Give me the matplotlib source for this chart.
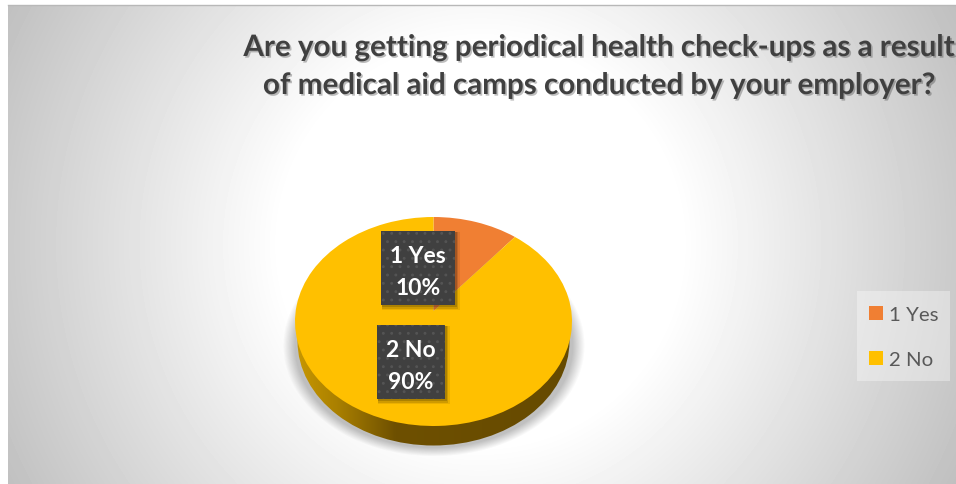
import matplotlib
matplotlib.use('Agg')
import matplotlib.pyplot as plt
import matplotlib.patheffects as pe
from matplotlib.colors import LinearSegmentedColormap
from matplotlib.patches import Ellipse, Rectangle
from matplotlib.path import Path
import numpy as np

plt.rcParams['font.family'] = ['Lato', 'DejaVu Sans']
plt.rcParams['hatch.linewidth'] = 0.9

# Survey answers
categories = ['1 Yes', '2 No']
values = [10, 90]
slice_colors = ['#F07F33', '#FFC000']
title_lines = ['Are you getting periodical health check-ups as a result',
               'of medical aid camps conducted by your employer?']

W, H = 956, 485
fig = plt.figure(figsize=(W / 100, H / 100), dpi=100, facecolor='white')

# Background layer, in pixel coordinates
bg = fig.add_axes([0, 0, 1, 1], zorder=0)
bg.set_xlim(0, W)
bg.set_ylim(H, 0)
bg.axis('off')

# Radial grey to white panel
xx, yy = np.meshgrid(np.arange(8, W), np.arange(6, H))
dist = np.hypot(xx - 480, yy - 245)
shade = 255 - 63 * np.clip((dist - 200) / 330, 0, 1)
bg.imshow(shade, cmap='gray', vmin=0, vmax=255, extent=(8, W, H, 6),
          aspect='auto', zorder=1)
bg.plot([8, W], [5.5, 5.5], color='#b8b8b8', lw=1, zorder=2)

# Soft shadow under the pie
sx, sy = np.meshgrid(np.arange(270, 600), np.arange(230, 470))
rho = np.hypot((sx - 433.5) / 151, (sy - 346) / 111)
alpha = 0.42 * np.clip((1 - rho) / 0.08, 0, 1)
shadow = np.zeros(alpha.shape + (4,))
shadow[..., :3] = 0.42
shadow[..., 3] = alpha
bg.imshow(shadow, extent=(270, 600, 470, 230), aspect='auto', zorder=3)

# Pie rim: dark gold gradient clipped to the lower ellipse
rim_cmap = LinearSegmentedColormap.from_list(
    'rim', [(0, '#C79700'), (0.15, '#A97F00'), (0.36, '#6E5000'), (1, '#664A00')])
rim = bg.imshow(np.linspace(0, 1, 256)[None, :], cmap=rim_cmap,
                extent=(297, 570, 447, 318), aspect='auto', zorder=4)
rim_clip = Ellipse((433.5, 342), 272, 209, transform=bg.transData)
rim.set_clip_path(rim_clip)
bg.set_xlim(0, W)
bg.set_ylim(H, 0)

# Pie top face
ax = fig.add_axes([295 / W, 1 - 427 / H, 277 / W, 209 / H], zorder=1)
wedges, _ = ax.pie(values, colors=slice_colors, startangle=90, counterclock=False,
                   radius=1, wedgeprops={'linewidth': 0})
ax.set_aspect('auto')
ax.set_xlim(-1, 1)
ax.set_ylim(-1, 1)
# The tilted view puts the slice apex a little above the ellipse centre
for w in wedges:
    path = w.get_path()
    verts = path.vertices.copy()
    verts[np.hypot(verts[:, 0], verts[:, 1]) < 1e-6, 1] += 0.1
    w._path = Path(verts, path.codes)
    w.set_clip_on(False)

# Overlay for title and data labels
top = fig.add_axes([0, 0, 1, 1], zorder=2)
top.set_xlim(0, W)
top.set_ylim(H, 0)
top.axis('off')
top.patch.set_alpha(0)

title_fx = [pe.withSimplePatchShadow(offset=(1.2, -1.2), shadow_rgbFace='#000000', alpha=0.25)]
for line, cy in zip(title_lines, (48, 86)):
    top.text(599, cy, line, ha='center', va='center', fontsize=21.3, fontweight='bold',
             color='#404040', path_effects=title_fx)

box_specs = [(381, 232, 74, 74), (377, 326, 68, 74)]
for cat, val, (bx, by, bw, bh) in zip(categories, values, box_specs):
    # layered rectangles give the box a soft drop shadow
    for grow, a in ((4, 0.08), (2.5, 0.12), (1, 0.16)):
        top.add_patch(Rectangle((bx + 1, by + 1), bw + grow, bh + grow, facecolor='black',
                                edgecolor='none', alpha=a, zorder=3))
    top.add_patch(Rectangle((bx, by), bw, bh, facecolor='#404040', edgecolor='#545454',
                            linewidth=0, hatch='..', zorder=3.5))
    top.text(bx + bw / 2, by + bh / 2 + 3.5, f'{cat}\n{val}%', ha='center', va='center',
             color='white', fontsize=16.5, fontweight='bold', linespacing=1.7, zorder=4)

# Legend on the right, over its own pale panel
top.add_patch(Rectangle((857, 292), 93, 90, facecolor='white', edgecolor='none', alpha=0.35))
leg = fig.legend(wedges, categories, loc='upper left',
                 bbox_to_anchor=(869 / W, 1 - 307 / H), bbox_transform=fig.transFigure,
                 fontsize=14.7, frameon=False, labelcolor='#595959',
                 handlelength=0.67, handleheight=0.67, handletextpad=0.3,
                 labelspacing=1.37, borderpad=0, borderaxespad=0)

fig.savefig('out.png', dpi=100)
